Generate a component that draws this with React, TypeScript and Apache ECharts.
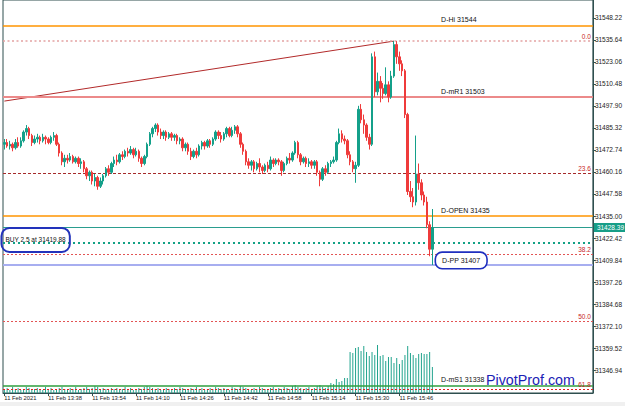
import React, { useEffect, useRef } from "react";
import * as echarts from "echarts";

// ---- data ----
const START_MINUTE = 13 * 60 + 22; // first bar 11 Feb 13:22
const SLOT_COUNT = 215; // visible M1 slots (incl. empty right shift)
const LABEL_STEP = 16;

// [open, close, low, high]
const CANDLES: number[][] = [
  [31476, 31477, 31473, 31479], [31477, 31475, 31474, 31479], [31475, 31476, 31473, 31478], [31476, 31474, 31472, 31477],
  [31474, 31477, 31473, 31479], [31477, 31475, 31474, 31480], [31475, 31478, 31474, 31480], [31478, 31483, 31477, 31484],
  [31483, 31485, 31481, 31487], [31485, 31481, 31479, 31486], [31481, 31477, 31475, 31482], [31477, 31479, 31476, 31481],
  [31479, 31480, 31477, 31482], [31480, 31478, 31476, 31481], [31478, 31480, 31477, 31482], [31480, 31479, 31476, 31481],
  [31479, 31477, 31476, 31480], [31477, 31480, 31476, 31481], [31480, 31481, 31478, 31483], [31481, 31476, 31475, 31482],
  [31476, 31471, 31469, 31477], [31471, 31466, 31464, 31472], [31466, 31468, 31463, 31470], [31468, 31467, 31465, 31470],
  [31467, 31469, 31466, 31471], [31469, 31466, 31465, 31470], [31466, 31468, 31465, 31469], [31468, 31465, 31463, 31469],
  [31465, 31466, 31462, 31468], [31466, 31462, 31460, 31467], [31462, 31458, 31456, 31463], [31458, 31460, 31455, 31461],
  [31460, 31455, 31453, 31461], [31455, 31457, 31452, 31459], [31457, 31452, 31450, 31458], [31452, 31455, 31451, 31457],
  [31455, 31458, 31453, 31459], [31458, 31462, 31457, 31463], [31462, 31460, 31458, 31464], [31460, 31465, 31459, 31466],
  [31465, 31467, 31463, 31469], [31467, 31466, 31464, 31470], [31466, 31470, 31465, 31471], [31470, 31469, 31467, 31472],
  [31469, 31472, 31468, 31473], [31472, 31471, 31469, 31474], [31471, 31473, 31470, 31475], [31473, 31470, 31468, 31474],
  [31470, 31472, 31469, 31474], [31472, 31468, 31466, 31473], [31468, 31465, 31463, 31469], [31465, 31469, 31464, 31470],
  [31469, 31476, 31468, 31477], [31476, 31482, 31475, 31483], [31482, 31485, 31480, 31486], [31485, 31487, 31483, 31488],
  [31487, 31483, 31481, 31488], [31483, 31481, 31479, 31485], [31481, 31483, 31479, 31484], [31483, 31480, 31478, 31484],
  [31480, 31482, 31479, 31483], [31482, 31480, 31478, 31483], [31480, 31481, 31478, 31482], [31481, 31478, 31476, 31482],
  [31478, 31479, 31476, 31480], [31479, 31474, 31472, 31480], [31474, 31476, 31472, 31477], [31476, 31472, 31470, 31477],
  [31472, 31469, 31467, 31474], [31469, 31472, 31468, 31473], [31472, 31470, 31468, 31474], [31470, 31475, 31469, 31476],
  [31475, 31477, 31473, 31478], [31477, 31475, 31473, 31478], [31475, 31478, 31474, 31479], [31478, 31476, 31474, 31479],
  [31476, 31479, 31475, 31480], [31479, 31483, 31478, 31484], [31483, 31481, 31479, 31484], [31481, 31479, 31477, 31483],
  [31479, 31482, 31478, 31483], [31482, 31485, 31480, 31486], [31485, 31481, 31480, 31486], [31481, 31484, 31480, 31486],
  [31484, 31486, 31482, 31487], [31486, 31482, 31480, 31487], [31482, 31476, 31474, 31483], [31476, 31472, 31470, 31477],
  [31472, 31466, 31464, 31473], [31466, 31464, 31462, 31468], [31464, 31466, 31461, 31467], [31466, 31462, 31460, 31467],
  [31462, 31465, 31461, 31466], [31465, 31463, 31460, 31468], [31463, 31461, 31459, 31464], [31461, 31464, 31460, 31465],
  [31464, 31462, 31460, 31466], [31462, 31467, 31461, 31469], [31467, 31465, 31463, 31468], [31465, 31467, 31464, 31468],
  [31467, 31466, 31464, 31468], [31466, 31461, 31458, 31467], [31461, 31465, 31460, 31466], [31465, 31468, 31464, 31469],
  [31468, 31467, 31465, 31471], [31467, 31471, 31466, 31472], [31471, 31477, 31470, 31478], [31477, 31470, 31468, 31478],
  [31470, 31466, 31464, 31471], [31466, 31468, 31465, 31469], [31468, 31465, 31463, 31469], [31465, 31466, 31463, 31468],
  [31466, 31464, 31462, 31467], [31464, 31466, 31462, 31467], [31466, 31460, 31458, 31467], [31460, 31456, 31452, 31461],
  [31456, 31462, 31455, 31463], [31462, 31460, 31458, 31464], [31460, 31465, 31459, 31466], [31465, 31466, 31463, 31467],
  [31466, 31467, 31465, 31469], [31467, 31477, 31466, 31478], [31477, 31482, 31476, 31485], [31482, 31479, 31477, 31484],
  [31479, 31478, 31476, 31481], [31478, 31470, 31468, 31479], [31470, 31466, 31464, 31472], [31466, 31462, 31460, 31467],
  [31462, 31464, 31454, 31466], [31464, 31496, 31463, 31498], [31496, 31490, 31488, 31499], [31490, 31487, 31482, 31493],
  [31487, 31480, 31478, 31488], [31480, 31476, 31473, 31482], [31476, 31526, 31475, 31528], [31526, 31506, 31503, 31529],
  [31506, 31512, 31504, 31517], [31512, 31508, 31500, 31515], [31508, 31505, 31502, 31511], [31505, 31510, 31504, 31520],
  [31510, 31503, 31500, 31512], [31503, 31515, 31502, 31518], [31515, 31533, 31514, 31535], [31533, 31526, 31522, 31535],
  [31526, 31522, 31518, 31529], [31522, 31518, 31515, 31524], [31518, 31493, 31491, 31519], [31493, 31449, 31447, 31494],
  [31449, 31446, 31443, 31455], [31446, 31443, 31440, 31451], [31443, 31459, 31441, 31481], [31459, 31454, 31450, 31465],
  [31454, 31447, 31444, 31456], [31447, 31443, 31441, 31449], [31443, 31430, 31428, 31446], [31430, 31416, 31412, 31432],
  [31416, 31428.39, 31407, 31439],
];

const VOLUMES: number[] = [
  4, 5, 3, 6, 4, 5, 3, 4, 6, 5, 3, 4, 5, 4, 3, 6, 4, 5, 3, 4,
  5, 6, 4, 3, 5, 4, 6, 3, 4, 5, 6, 4, 5, 7, 6, 4, 5, 4, 3, 5,
  4, 5, 3, 4, 6, 4, 5, 3, 4, 5, 4, 6, 7, 6, 5, 4, 5, 3, 4, 5,
  4, 3, 5, 4, 6, 5, 4, 3, 5, 4, 6, 4, 5, 3, 4, 5, 4, 6, 5, 4,
  5, 4, 3, 6, 5, 4, 7, 6, 5, 4, 3, 5, 4, 6, 5, 4, 3, 5, 6, 4,
  5, 4, 6, 5, 4, 7, 8, 6, 5, 4, 5, 6, 4, 5, 7, 8, 6, 5, 7,
  10, 9, 14, 11, 12, 15, 15,
  41, 40, 45, 46, 42, 47, 41, 37, 41, 38, 48, 37, 38, 32, 36, 36, 30, 35, 29, 33,
  38, 47, 40, 38, 35, 39, 40, 39, 39, 41, 26,
];

const RIGHT_TICKS = [
  31548.22, 31535.64, 31523.06, 31510.48, 31497.9, 31485.32, 31472.74, 31460.16, 31447.58,
  31435.0, 31422.42, 31409.84, 31397.26, 31384.68, 31372.1, 31359.52, 31346.94,
];

const LEVEL_NAMES = ["D-Hi", "D-mR1", "D-OPEN", "D-PP", "D-mS1"];
const LEVEL_VALUES = [31544, 31503, 31435, 31407, 31338];

const FIB_NAMES = ["0.0", "23.6", "38.2", "50.0", "61.8"];
const FIB_VALUES = [31535, 31459.7, 31413, 31375, 31336];

const CURRENT_PRICE = 31428.39;
const BUY_LOTS = 2.5;
const BUY_PRICE = 31419.88;
const TREND_START_VALUE = 31500.7;
const TREND_END_INDEX = 142;
const TREND_END_VALUE = 31535;

const Y_MIN = 31333.8;
const Y_MAX = 31558.5;

const pad = (n: number) => (n < 10 ? "0" + n : "" + n);
const CATEGORIES = Array.from({ length: SLOT_COUNT }, (_, i) => {
  const m = START_MINUTE + i;
  return `11 Feb ${pad(Math.floor(m / 60))}:${pad(m % 60)}`;
});

// ---- styles ----
const LEVEL_STYLES = [
  { color: "#ff9500", width: 1.5 },
  { color: "#ec8a8a", width: 2 },
  { color: "#ff9500", width: 1.5 },
  { color: "#a7aef0", width: 2 },
  { color: "#2f9f3f", width: 1.5 },
];
const FIB_STYLES = [
  { color: "#e3a3a3", width: 1.5, type: [2, 2.5] },
  { color: "#a52a2a", width: 1.2, type: [3, 2] },
  { color: "#e25555", width: 1, type: [2, 2] },
  { color: "#e25555", width: 1, type: [2, 2] },
  { color: "#e02020", width: 1.2, type: [2, 2] },
];
const LABEL_SLOT = 159;
const FONT = "Liberation Sans";

export default function App() {
  const ref = useRef<HTMLDivElement>(null);

  useEffect(() => {
    if (!ref.current) return;
    const chart = echarts.init(ref.current, undefined, { renderer: "svg" });
    const n = CANDLES.length;
    const showIdx = (idx: number) => idx % LABEL_STEP === 0 && idx < n;

    const markLineData: any[] = [];
    markLineData.push([
      { coord: [0, TREND_START_VALUE], lineStyle: { color: "#b22a2a", width: 1, type: "solid" }, label: { show: false } },
      { coord: [TREND_END_INDEX, TREND_END_VALUE] },
    ]);
    LEVEL_VALUES.forEach((v, i) => {
      markLineData.push({
        yAxis: v,
        lineStyle: { color: LEVEL_STYLES[i].color, width: LEVEL_STYLES[i].width, type: "solid" },
        label: { show: false },
      });
    });
    FIB_VALUES.forEach((v, i) => {
      markLineData.push({
        yAxis: v,
        lineStyle: { color: FIB_STYLES[i].color, width: FIB_STYLES[i].width, type: FIB_STYLES[i].type },
        label: {
          show: true,
          position: "insideEndTop",
          formatter: FIB_NAMES[i],
          color: "#c81e1e",
          fontSize: 6.5,
          fontFamily: FONT,
          distance: 1,
          padding: [0, 1, 0, 0],
        },
      });
    });
    markLineData.push({
      yAxis: BUY_PRICE,
      lineStyle: { color: "#13a185", width: 2, type: [2, 3] },
      label: { show: false },
    });
    markLineData.push({
      yAxis: CURRENT_PRICE,
      lineStyle: { color: "#2a9d8f", width: 1, type: "solid" },
      label: {
        show: true,
        position: "end",
        formatter: CURRENT_PRICE.toFixed(2),
        color: "#ffffff",
        backgroundColor: "#179e88",
        padding: [1, 3],
        distance: 1,
        fontSize: 6.5,
        fontFamily: FONT,
      },
    });

    const markPointData: any[] = LEVEL_VALUES.map((v, i) => {
      const text = `${LEVEL_NAMES[i]} ${v}`;
      const boxed = LEVEL_NAMES[i] === "D-PP";
      return {
        coord: [LABEL_SLOT, v],
        symbol: "rect",
        symbolSize: 1,
        itemStyle: { color: "rgba(0,0,0,0)" },
        label: boxed
          ? {
              show: true,
              position: "right",
              distance: 0,
              formatter: text,
              color: "#111",
              fontSize: 7,
              fontFamily: FONT,
              backgroundColor: "#ffffff",
              borderColor: "#1f2fbf",
              borderWidth: 1.6,
              borderRadius: 6,
              padding: [4, 6],
              offset: [-5, -4.5],
            }
          : {
              show: true,
              position: "right",
              distance: 0,
              formatter: text,
              color: "#111",
              fontSize: 7,
              fontFamily: FONT,
              offset: [0, -6],
            },
      };
    });
    markPointData.push({
      coord: [0, BUY_PRICE],
      symbol: "rect",
      symbolSize: 1,
      itemStyle: { color: "rgba(0,0,0,0)" },
      label: {
        show: true,
        position: "right",
        distance: 0,
        formatter: `BUY ${BUY_LOTS} at ${BUY_PRICE.toFixed(2)}`,
        color: "#111",
        fontSize: 6.5,
        fontFamily: FONT,
        lineHeight: 8,
        borderColor: "#2233bb",
        borderWidth: 2,
        borderRadius: 8,
        padding: [4, 4, 12, 4],
        offset: [-3.4, -2.5],
      },
    });

    chart.setOption({
      animation: false,
      backgroundColor: "#ffffff",
      textStyle: { fontFamily: FONT },
      grid: { left: 3, right: 31, top: 0, bottom: 13, show: true, borderColor: "#2f4f4f", borderWidth: 1 },
      xAxis: {
        type: "category",
        data: CATEGORIES,
        boundaryGap: true,
        axisLine: { show: true, lineStyle: { color: "#2f4f4f" } },
        axisTick: { show: true, interval: (idx: number) => showIdx(idx), alignWithLabel: true, length: 3, lineStyle: { color: "#2f4f4f" } },
        axisLabel: {
          interval: (idx: number) => showIdx(idx),
          formatter: (val: string, idx: number) => (idx === 0 ? "11 Feb 2021" : val),
          align: "left",
          fontSize: 5.8,
          color: "#222",
          margin: 2,
        },
        splitLine: { show: false },
      },
      yAxis: [
        {
          type: "value",
          position: "right",
          min: Y_MIN,
          max: Y_MAX,
          splitLine: { show: false },
          axisLine: { show: true, lineStyle: { color: "#2f4f4f" } },
          axisTick: { show: true, length: 3, customValues: RIGHT_TICKS, lineStyle: { color: "#2f4f4f" } },
          axisLabel: {
            customValues: RIGHT_TICKS,
            formatter: (v: number) => v.toFixed(2),
            fontSize: 6.5,
            color: "#222",
            margin: 2,
          },
        },
        { type: "value", min: 0, max: 393, show: false },
      ],
      series: [
        {
          type: "bar",
          yAxisIndex: 1,
          data: VOLUMES,
          barWidth: 1,
          itemStyle: { color: "#22a48e" },
          silent: true,
          z: 1,
        },
        {
          type: "candlestick",
          data: CANDLES,
          barWidth: 2,
          z: 3,
          itemStyle: {
            color: "#14a08a",
            color0: "#ef3b3b",
            borderColor: "#14a08a",
            borderColor0: "#ef3b3b",
            borderWidth: 1,
          },
          markLine: {
            silent: true,
            symbol: ["none", "none"],
            label: { show: false },
            data: markLineData,
            z: 2,
          },
          markPoint: {
            silent: true,
            data: markPointData,
            z: 5,
          },
        },
      ],
      graphic: [
        {
          type: "text",
          left: 486,
          top: 373,
          z: 10,
          style: { text: "PivotProf.com", fill: "#1b22b5", font: '14.3px "Liberation Sans"' },
        },
        { type: "rect", shape: { x: 0, y: 402, width: 625, height: 4 }, style: { fill: "#f0f0f0" } },
      ],
    });
    return () => chart.dispose();
  }, []);

  return (
    <div
      ref={ref}
      style={{ position: "absolute", left: 0, top: 0, width: 625, height: 406, background: "#fff" }}
    />
  );
}
